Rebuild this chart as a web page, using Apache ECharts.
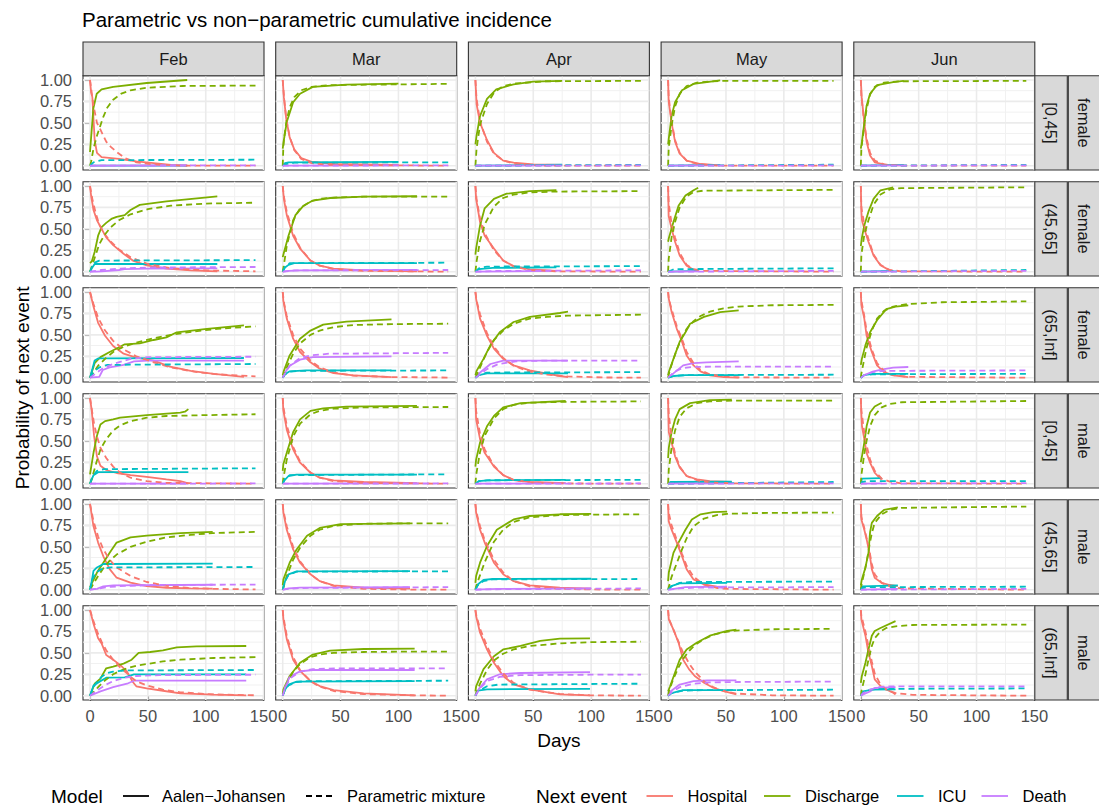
<!DOCTYPE html>
<html>
<head>
<meta charset="utf-8">
<script src="https://cdn.jsdelivr.net/npm/echarts@6/dist/echarts.min.js"></script>
<style>
html,body{margin:0;padding:0;background:#ffffff;}
#chart{width:1099px;height:807px;}
</style>
</head>
<body>
<div id="chart"></div>
<script>
// ---------------- labels & ticks ----------------
const chartTitle = 'Parametric vs non\u2212parametric cumulative incidence';
const months = ['Feb', 'Mar', 'Apr', 'May', 'Jun'];
const ageGroups = ['[0,45]', '(45,65]', '(65,Inf]', '[0,45]', '(45,65]', '(65,Inf]'];
const sexes = ['female', 'female', 'female', 'male', 'male', 'male'];
const eventNames = ['Hospital', 'Discharge', 'ICU', 'Death'];
const modelNames = ['Aalen\u2212Johansen', 'Parametric mixture'];
const xTickValues = [0, 50, 100, 150];
const xMinorValues = [25, 75, 125];
const yTickValues = [0, 0.25, 0.5, 0.75, 1];
const yMinorValues = [0.125, 0.375, 0.625, 0.875];

// ---------------- data: one flat [day, prob, day, prob, ...] list per panel
// panel order: row (female [0,45], female (45,65], female (65,Inf], male [0,45], male (45,65], male (65,Inf]) x month (Feb..Jun)
const ajHospital = [
 [0,1, 1,0.85, 2,0.8, 3,0.55, 4,0.3, 6,0.15, 10,0.1, 25,0.08, 40,0.05, 55,0.03, 70,0.01, 84,0],
 [0,1, 1,0.8, 3,0.55, 6,0.33, 10,0.19, 16,0.09, 25,0.045, 45,0.02, 100,0.01],
 [0,1, 1,0.72, 4,0.5, 10,0.3, 16,0.15, 24,0.06, 33,0.035, 50,0.015, 75,0.01],
 [0,1, 0.5,0.75, 3,0.5, 6,0.28, 10,0.14, 16,0.06, 28,0.02, 45,0.005],
 [0,1, 0.8,0.8, 3,0.5, 5,0.28, 8,0.12, 12,0.04, 22,0.01, 37,0.005],
 [0,1, 1,0.88, 3,0.72, 6,0.6, 10,0.5, 14,0.4, 20,0.31, 29,0.21, 37,0.13, 49,0.075, 66,0.035, 87,0.015, 110,0.005],
 [0,1, 1,0.85, 3.5,0.66, 9,0.42, 15,0.27, 24,0.13, 32,0.07, 44,0.035, 70,0.015, 116,0.005],
 [0,1, 0.6,0.85, 4,0.58, 8,0.42, 16,0.27, 24,0.13, 33,0.066, 47,0.027, 70,0.01],
 [0,1, 0.5,0.65, 3,0.5, 6,0.35, 10,0.19, 16,0.07, 22,0.023, 26,0.01],
 [0,1, 0.5,0.7, 1,0.6, 3,0.5, 6.6,0.35, 11,0.19, 17,0.075, 25,0.016, 28,0.01],
 [0,1, 3,0.83, 7,0.64, 13,0.49, 20,0.37, 29,0.28, 40,0.235, 55,0.2, 69,0.13, 87,0.08, 107,0.045, 133,0.01],
 [0,1, 0.5,0.9, 3.5,0.69, 9,0.455, 15,0.3, 24,0.18, 32,0.105, 44,0.054, 61,0.027, 94,0.008],
 [0,1, 0.6,0.92, 4,0.69, 10,0.49, 16,0.34, 24,0.22, 33,0.144, 47,0.086, 62,0.047, 73,0.02, 80,0.008],
 [0,1, 0.6,0.92, 3,0.77, 7.5,0.57, 12,0.42, 16,0.26, 22,0.144, 28,0.074, 36,0.027, 48,0.008, 61,0.002],
 [0,1, 0.5,0.85, 3,0.69, 5,0.49, 9.5,0.3, 14,0.144, 20,0.066, 28,0.027, 41,0.008],
 [0,1, 1.4,0.86, 3.5,0.56, 6,0.32, 9,0.21, 14,0.16, 23,0.125, 35,0.1, 49,0.08, 66,0.05, 78,0.03, 85,0.005],
 [0,1, 0.5,0.86, 3.5,0.63, 9,0.4, 15,0.245, 24,0.128, 32,0.07, 44,0.04, 70,0.02, 116,0.008],
 [0,1, 0.6,0.75, 4,0.52, 8,0.36, 16,0.2, 24,0.1, 33,0.043, 47,0.02, 78,0.008],
 [0,1, 0.3,0.75, 0.6,0.6, 3,0.48, 6,0.32, 10,0.19, 16,0.09, 25,0.05, 36,0.03, 55,0.02],
 [0,1, 0.5,0.8, 1,0.67, 3,0.52, 5,0.36, 8,0.245, 12,0.128, 16,0.07, 18,0.05],
 [0,1, 3,0.74, 7,0.55, 11.5,0.39, 17,0.24, 23,0.14, 35,0.082, 49,0.043, 66,0.023, 87,0.016, 106,0.012],
 [0,1, 0.6,0.9, 3.5,0.7, 9,0.47, 15,0.315, 24,0.18, 32,0.1, 44,0.05, 70,0.023, 110,0.012],
 [0,1, 0.6,0.9, 4,0.7, 8,0.55, 16,0.315, 24,0.18, 33,0.1, 47,0.05, 73,0.023, 100,0.012],
 [0,1, 0.5,0.8, 3,0.7, 7.5,0.55, 12,0.39, 16,0.24, 22,0.12, 31,0.062, 42,0.035, 51,0.02],
 [0,1, 0.5,0.82, 3,0.7, 5,0.59, 7.5,0.43, 9.5,0.24, 12,0.14, 18,0.08, 25,0.055, 32,0.043],
 [0,1, 3,0.84, 7,0.67, 10,0.61, 14,0.475, 20,0.42, 26,0.36, 32,0.28, 37,0.16, 40,0.11, 49,0.085, 63,0.058, 78,0.027, 107,0.012, 135,0.004],
 [0,1, 0.6,0.89, 3.5,0.66, 9,0.42, 15,0.29, 24,0.17, 32,0.113, 44,0.066, 70,0.027, 114,0.004],
 [0,1, 0.6,0.93, 4,0.735, 10,0.54, 16,0.385, 24,0.23, 33,0.132, 47,0.074, 73,0.016, 99,0.005],
 [0,1, 0.6,0.89, 4.6,0.77, 9,0.62, 13,0.42, 18,0.31, 23,0.23, 31,0.152, 39,0.093, 48,0.054, 59,0.016],
 [0,1, 0.5,0.89, 4,0.7, 6.6,0.5, 9.5,0.35, 12,0.19, 17,0.113, 22,0.074, 28,0.035, 30,0.015]
];
const ajDischarge = [
 [0,0.16, 2.9,0.67, 5.8,0.84, 10,0.89, 20,0.92, 49,0.965, 84,1.0],
 [0,0.2, 1,0.3, 3.5,0.51, 9,0.74, 15,0.84, 26,0.92, 55,0.945, 100,0.957],
 [0,0.25, 1,0.35, 4,0.58, 10,0.78, 18,0.89, 33,0.95, 50,0.98, 75,0.99],
 [0,0.25, 0.6,0.32, 3,0.58, 6,0.74, 12,0.88, 22,0.955, 45,0.995],
 [0,0.2, 1,0.28, 3,0.5, 5,0.7, 8,0.84, 14,0.94, 28,0.975, 37,0.99],
 [0,0.1, 1.5,0.12, 4,0.23, 7,0.42, 10,0.52, 14,0.57, 19,0.62, 23,0.64, 30,0.66, 35,0.72, 43,0.78, 66,0.82, 110,0.88],
 [0,0.17, 1,0.22, 5,0.42, 11,0.66, 18,0.77, 26,0.83, 41,0.86, 70,0.875, 116,0.88],
 [0,0.2, 0.6,0.27, 4,0.54, 8,0.74, 16,0.85, 27,0.91, 47,0.94, 70,0.95],
 [0,0.35, 0.6,0.39, 4.6,0.58, 9,0.77, 15,0.89, 22,0.95, 26,0.98],
 [0,0.3, 1,0.4, 3,0.54, 6.6,0.7, 11,0.85, 17,0.95, 28,0.985],
 [0,0, 4,0.17, 9,0.24, 17,0.3, 23,0.34, 30,0.39, 43,0.4, 55,0.44, 66,0.47, 75,0.53, 101,0.57, 133,0.61],
 [0,0.03, 1,0.08, 6,0.26, 15,0.455, 24,0.55, 35,0.62, 55,0.655, 94,0.68],
 [0,0.03, 1,0.08, 7,0.22, 13,0.38, 21,0.53, 33,0.65, 47,0.71, 73,0.755, 80,0.77],
 [0,0.03, 0.6,0.066, 4.6,0.22, 10,0.42, 15,0.53, 19,0.63, 31,0.71, 45,0.765, 61,0.785],
 [0,0.15, 0.9,0.22, 4,0.38, 8,0.53, 14,0.67, 22,0.8, 30,0.83, 41,0.845],
 [0,0.11, 3,0.36, 6,0.56, 9,0.69, 13,0.73, 20,0.75, 26,0.77, 49,0.8, 78,0.83, 82,0.84, 85,0.87],
 [0,0.15, 0.6,0.23, 3.5,0.36, 9,0.6, 15,0.75, 24,0.85, 35,0.88, 55,0.9, 116,0.907],
 [0,0.2, 0.6,0.28, 4,0.48, 10,0.67, 16,0.79, 24,0.89, 39,0.94, 78,0.965],
 [0,0.3, 0.6,0.42, 3,0.6, 6,0.75, 10,0.87, 19,0.94, 36,0.975, 55,0.98],
 [0,0.25, 1,0.32, 3,0.48, 5,0.67, 8,0.83, 12,0.9, 18,0.945],
 [0,0.03, 6,0.2, 11.5,0.315, 17,0.43, 23,0.55, 35,0.61, 49,0.63, 78,0.66, 106,0.675],
 [0,0.05, 0.6,0.12, 6,0.315, 12,0.47, 21,0.63, 32,0.72, 50,0.765, 110,0.775],
 [0,0.08, 0.6,0.16, 4,0.315, 10,0.51, 18.5,0.7, 33,0.82, 47,0.86, 73,0.88, 100,0.885],
 [0,0.1, 0.6,0.2, 4.6,0.43, 9,0.55, 15,0.7, 20.5,0.82, 28,0.88, 39,0.905, 51,0.91],
 [0,0.05, 0.9,0.12, 4,0.26, 6.6,0.43, 8,0.67, 9.5,0.78, 14,0.86, 20,0.93, 32,0.96],
 [0,0, 4,0.14, 9,0.2, 14,0.32, 20,0.34, 29,0.375, 36,0.42, 42,0.5, 52,0.51, 63,0.53, 75,0.565, 92,0.575, 135,0.58],
 [0,0.02, 0.6,0.074, 6,0.23, 15,0.385, 26,0.48, 41,0.525, 70,0.545, 114,0.55],
 [0,0.05, 0.6,0.11, 7,0.31, 16,0.46, 24,0.54, 39,0.58, 56,0.64, 73,0.665, 99,0.67],
 [0,0.05, 1.7,0.11, 6,0.27, 10,0.42, 16,0.54, 25,0.62, 36,0.7, 51,0.755, 59,0.77],
 [0,0.15, 0.9,0.23, 4,0.385, 6.6,0.54, 9.5,0.7, 12,0.755, 17,0.79, 30,0.87]
];
const ajIcu = [
 [0,0, 84,0.002], [0,0, 2,0.03, 5,0.04, 100,0.045], [0,0, 75,0.012], [0,0, 45,0.01], [0,0, 37,0.01],
 [0,0, 2,0.05, 4,0.09, 110,0.09], [0,0, 2,0.05, 5,0.08, 10,0.1, 116,0.1], [0,0, 3,0.03, 15,0.045, 70,0.05], [0,0, 26,0.01], [0,0, 28,0.01],
 [0,0, 2,0.1, 4,0.2, 7,0.225, 133,0.23], [0,0, 2,0.04, 6,0.075, 20,0.085, 94,0.085], [0,0, 3,0.03, 10,0.05, 80,0.05], [0,0, 5,0.02, 15,0.03, 61,0.03], [0,0, 3,0.03, 10,0.045, 41,0.045],
 [0,0, 3,0.1, 7,0.135, 85,0.135], [0,0, 1.5,0.04, 5,0.09, 12,0.105, 116,0.105], [0,0, 3,0.03, 10,0.04, 78,0.045], [0,0, 2,0.02, 55,0.025], [0,0, 1,0.06, 18,0.065],
 [0,0, 1.5,0.1, 3,0.22, 6,0.26, 11.5,0.3, 106,0.305], [0,0, 2,0.1, 5,0.18, 12,0.215, 110,0.218], [0,0, 2,0.06, 7,0.115, 15,0.125, 100,0.128], [0,0, 2,0.04, 10,0.074, 51,0.08], [0,0, 1,0.04, 32,0.05],
 [0,0, 3,0.12, 9,0.17, 14,0.21, 30,0.215, 38,0.25, 135,0.25], [0,0, 2,0.07, 5,0.13, 12,0.165, 114,0.17], [0,0, 2,0.06, 10,0.075, 99,0.08], [0,0, 3,0.03, 13,0.066, 59,0.066], [0,0, 2,0.05, 10,0.07, 30,0.075]
];
const ajDeath = [
 [0,0, 84,0.003], [0,0, 100,0.005], [0,0, 75,0.005], [0,0, 45,0.005], [0,0, 37,0.005],
 [0,0, 5,0, 10,0.005, 25,0.02, 30,0.03, 50,0.035, 110,0.04], [0,0, 5,0.01, 15,0.015, 116,0.02], [0,0, 70,0.01], [0,0, 26,0.005], [0,0, 28,0.005],
 [0,0, 8,0.01, 11,0.09, 17,0.12, 29,0.15, 38,0.19, 50,0.2, 133,0.2], [0,0, 2,0.06, 6,0.14, 15,0.21, 26,0.24, 94,0.25], [0,0, 3,0.05, 13,0.16, 24,0.2, 80,0.2], [0,0, 4.6,0.05, 13,0.144, 22,0.17, 33,0.18, 61,0.19], [0,0, 3,0.03, 10,0.07, 20,0.1, 28,0.117, 41,0.125],
 [0,0, 85,0.002], [0,0, 116,0.003], [0,0, 78,0.003], [0,0, 55,0.005], [0,0, 18,0.005],
 [0,0, 6,0.01, 11.5,0.04, 20,0.05, 106,0.058], [0,0, 5,0.015, 15,0.025, 110,0.03], [0,0, 5,0.005, 20,0.01, 100,0.015], [0,0, 5,0.01, 15,0.03, 51,0.035], [0,0, 32,0.01],
 [0,0, 9,0.05, 20,0.1, 32,0.14, 38,0.175, 135,0.175], [0,0, 2,0.1, 6,0.22, 15,0.285, 26,0.3, 114,0.3], [0,0, 3,0.08, 10,0.19, 21,0.25, 39,0.265, 99,0.275], [0,0, 2,0.05, 10,0.13, 22,0.17, 34,0.18, 59,0.18], [0,0, 3,0.02, 8,0.05, 12,0.09, 30,0.1]
];
const pmHospital = [
 [0,1, 1,0.9, 3,0.7, 6,0.5, 9,0.42, 14,0.28, 18,0.22, 23,0.16, 30,0.09, 40,0.04, 55,0.015, 80,0, 143,0],
 [0,1, 1,0.82, 3,0.55, 6,0.34, 10,0.18, 16,0.08, 25,0.03, 40,0.01, 143,0],
 [0,1, 1,0.78, 4,0.52, 10,0.28, 16,0.14, 24,0.06, 35,0.02, 60,0, 143,0],
 [0,1, 0.5,0.8, 3,0.52, 6,0.3, 10,0.15, 16,0.06, 25,0.02, 45,0, 143,0],
 [0,1, 0.5,0.8, 3,0.5, 5,0.32, 8,0.15, 12,0.06, 20,0.015, 35,0, 143,0],
 [0,1, 2,0.85, 5,0.68, 8,0.55, 12,0.45, 18,0.35, 25,0.26, 35,0.17, 50,0.09, 70,0.04, 100,0.015, 143,0.005],
 [0,1, 1,0.88, 3.5,0.7, 9,0.45, 15,0.28, 24,0.13, 32,0.07, 44,0.03, 70,0.01, 143,0],
 [0,1, 1,0.85, 4,0.62, 8,0.45, 16,0.25, 24,0.13, 33,0.06, 47,0.02, 70,0.005, 143,0],
 [0,1, 0.5,0.8, 3,0.56, 6,0.4, 10,0.22, 16,0.08, 22,0.03, 30,0.01, 143,0],
 [0,1, 0.5,0.75, 3,0.55, 6.6,0.38, 11,0.2, 17,0.08, 25,0.02, 35,0.005, 143,0],
 [0,1, 3,0.86, 7,0.7, 13,0.55, 20,0.43, 29,0.33, 40,0.25, 55,0.18, 70,0.12, 90,0.07, 110,0.04, 143,0.015],
 [0,1, 1,0.88, 3.5,0.72, 9,0.5, 15,0.34, 24,0.2, 32,0.12, 44,0.06, 61,0.025, 94,0.008, 143,0.002],
 [0,1, 1,0.9, 4,0.74, 10,0.52, 16,0.36, 24,0.23, 33,0.14, 47,0.07, 62,0.035, 80,0.015, 110,0.003, 143,0],
 [0,1, 0.6,0.92, 3,0.8, 7.5,0.6, 12,0.45, 16,0.3, 22,0.17, 28,0.09, 36,0.04, 48,0.013, 61,0.004, 143,0],
 [0,1, 0.5,0.9, 3,0.72, 5,0.55, 9.5,0.33, 14,0.17, 20,0.08, 28,0.03, 41,0.01, 143,0],
 [0,1, 1.4,0.88, 3.5,0.7, 6,0.55, 9,0.42, 14,0.3, 20,0.2, 26,0.13, 35,0.07, 49,0.03, 66,0.01, 143,0],
 [0,1, 0.5,0.9, 3.5,0.68, 9,0.43, 15,0.26, 24,0.13, 32,0.07, 44,0.03, 70,0.01, 143,0],
 [0,1, 0.6,0.85, 4,0.58, 8,0.4, 16,0.21, 24,0.1, 33,0.045, 47,0.015, 78,0.003, 143,0],
 [0,1, 0.6,0.8, 3,0.55, 6,0.35, 10,0.2, 16,0.09, 25,0.04, 36,0.015, 55,0.005, 143,0],
 [0,1, 0.5,0.85, 3,0.6, 5,0.45, 8,0.28, 12,0.15, 18,0.06, 25,0.025, 35,0.005, 143,0],
 [0,1, 3,0.8, 7,0.62, 11.5,0.47, 17,0.35, 23,0.26, 35,0.16, 49,0.09, 66,0.045, 87,0.02, 106,0.01, 143,0.003],
 [0,1, 0.6,0.92, 3.5,0.74, 9,0.5, 15,0.33, 24,0.18, 32,0.1, 44,0.045, 70,0.01, 110,0.002, 143,0],
 [0,1, 0.6,0.92, 4,0.74, 8,0.58, 16,0.35, 24,0.2, 33,0.1, 47,0.04, 73,0.01, 100,0.003, 143,0],
 [0,1, 0.5,0.9, 3,0.75, 7.5,0.58, 12,0.42, 16,0.28, 22,0.15, 31,0.06, 42,0.02, 51,0.01, 143,0],
 [0,1, 0.5,0.85, 3,0.72, 5,0.6, 7.5,0.45, 9.5,0.3, 12,0.18, 18,0.08, 25,0.04, 35,0.015, 143,0],
 [0,1, 3,0.87, 7,0.72, 10,0.63, 14,0.53, 20,0.42, 26,0.33, 32,0.26, 37,0.2, 40,0.17, 49,0.12, 63,0.07, 78,0.04, 107,0.015, 143,0.005],
 [0,1, 0.6,0.92, 3.5,0.7, 9,0.45, 15,0.3, 24,0.17, 32,0.105, 44,0.055, 70,0.018, 114,0.004, 143,0.001],
 [0,1, 0.6,0.95, 4,0.78, 10,0.58, 16,0.41, 24,0.26, 33,0.15, 47,0.07, 73,0.02, 99,0.005, 143,0],
 [0,1, 0.6,0.9, 4.6,0.77, 9,0.63, 13,0.5, 18,0.38, 23,0.28, 31,0.17, 39,0.1, 48,0.055, 59,0.025, 90,0.005, 143,0],
 [0,1, 0.5,0.93, 4,0.75, 6.6,0.58, 9.5,0.4, 12,0.26, 17,0.13, 22,0.07, 30,0.03, 45,0.01, 143,0]
];
const pmDischarge = [
 [0,0, 1,0.05, 3,0.2, 6,0.35, 9,0.47, 11.5,0.57, 15,0.68, 20,0.77, 27,0.84, 35,0.88, 49,0.91, 80,0.93, 143,0.935],
 [0,0, 0.5,0.2, 1,0.3, 3,0.5, 6,0.68, 10,0.8, 16,0.88, 25,0.92, 40,0.94, 143,0.955],
 [0,0, 1,0.2, 4,0.48, 10,0.72, 16,0.85, 24,0.93, 35,0.96, 60,0.985, 143,0.99],
 [0,0, 0.5,0.2, 3,0.47, 6,0.69, 10,0.84, 16,0.93, 25,0.97, 45,0.99, 143,0.99],
 [0,0, 0.5,0.2, 3,0.48, 5,0.66, 8,0.83, 12,0.92, 20,0.97, 35,0.985, 143,0.99],
 [0,0, 2,0.08, 5,0.2, 8,0.32, 12,0.42, 18,0.52, 25,0.6, 35,0.67, 50,0.73, 70,0.77, 100,0.795, 143,0.805],
 [0,0, 1,0.08, 3.5,0.3, 9,0.6, 15,0.74, 24,0.82, 32,0.85, 44,0.865, 70,0.875, 143,0.875],
 [0,0, 1,0.12, 4,0.36, 8,0.55, 16,0.76, 24,0.86, 33,0.9, 47,0.925, 70,0.935, 143,0.94],
 [0,0, 0.5,0.15, 3,0.4, 6,0.58, 10,0.75, 16,0.88, 22,0.93, 30,0.945, 143,0.955],
 [0,0, 0.5,0.2, 3,0.43, 6.6,0.6, 11,0.78, 17,0.9, 25,0.96, 35,0.975, 143,0.985],
 [0,0, 3,0.06, 7,0.14, 13,0.22, 20,0.3, 29,0.36, 40,0.41, 55,0.46, 70,0.5, 90,0.54, 110,0.57, 143,0.6],
 [0,0, 1,0.03, 3.5,0.12, 9,0.28, 15,0.4, 24,0.5, 32,0.55, 44,0.59, 61,0.615, 94,0.625, 143,0.63],
 [0,0, 1,0.03, 4,0.12, 10,0.3, 16,0.44, 24,0.55, 33,0.63, 47,0.69, 62,0.71, 80,0.725, 143,0.735],
 [0,0, 0.6,0.04, 3,0.15, 7.5,0.33, 12,0.47, 16,0.57, 22,0.66, 28,0.72, 36,0.77, 48,0.81, 61,0.83, 90,0.845, 143,0.85],
 [0,0, 0.5,0.05, 3,0.22, 5,0.35, 9.5,0.55, 14,0.69, 20,0.78, 28,0.83, 41,0.86, 70,0.88, 143,0.89],
 [0,0, 1.4,0.05, 3.5,0.15, 6,0.27, 9,0.4, 14,0.52, 20,0.62, 26,0.68, 35,0.73, 49,0.77, 66,0.79, 100,0.8, 143,0.81],
 [0,0, 0.5,0.06, 3.5,0.28, 9,0.55, 15,0.7, 24,0.81, 32,0.85, 44,0.875, 70,0.89, 143,0.895],
 [0,0, 0.6,0.1, 4,0.37, 8,0.56, 16,0.76, 24,0.87, 33,0.92, 47,0.945, 78,0.955, 143,0.96],
 [0,0, 0.6,0.17, 3,0.42, 6,0.62, 10,0.78, 16,0.88, 25,0.94, 36,0.96, 55,0.97, 143,0.97],
 [0,0, 0.5,0.1, 3,0.35, 5,0.5, 8,0.67, 12,0.8, 18,0.89, 25,0.93, 35,0.95, 143,0.965],
 [0,0, 3,0.07, 7,0.16, 11.5,0.25, 17,0.34, 23,0.41, 35,0.5, 49,0.56, 66,0.61, 87,0.64, 106,0.66, 143,0.675],
 [0,0, 0.6,0.03, 3.5,0.16, 9,0.35, 15,0.49, 24,0.63, 32,0.7, 44,0.745, 70,0.77, 110,0.775, 143,0.775],
 [0,0, 0.6,0.04, 4,0.17, 8,0.32, 16,0.56, 24,0.7, 33,0.79, 47,0.845, 73,0.87, 100,0.875, 143,0.88],
 [0,0, 0.5,0.03, 3,0.15, 7.5,0.31, 12,0.47, 16,0.6, 22,0.74, 31,0.83, 42,0.87, 51,0.885, 80,0.895, 143,0.9],
 [0,0, 0.5,0.05, 3,0.2, 5,0.32, 7.5,0.52, 9.5,0.66, 12,0.78, 18,0.88, 25,0.93, 35,0.955, 143,0.97],
 [0,0, 3,0.04, 7,0.1, 10,0.14, 14,0.19, 20,0.25, 26,0.29, 32,0.32, 40,0.35, 49,0.37, 63,0.4, 78,0.42, 107,0.44, 143,0.45],
 [0,0, 0.6,0.03, 3.5,0.14, 9,0.28, 15,0.37, 24,0.45, 32,0.48, 44,0.5, 70,0.51, 114,0.515, 143,0.515],
 [0,0, 0.6,0.03, 4,0.14, 10,0.3, 16,0.41, 24,0.49, 33,0.54, 47,0.58, 73,0.61, 99,0.625, 143,0.63],
 [0,0, 0.6,0.05, 4.6,0.2, 9,0.33, 13,0.43, 18,0.52, 23,0.59, 31,0.66, 39,0.71, 48,0.74, 59,0.76, 90,0.775, 143,0.78],
 [0,0, 0.5,0.05, 4,0.25, 6.6,0.42, 9.5,0.58, 12,0.67, 17,0.75, 22,0.79, 30,0.81, 45,0.825, 143,0.83]
];
const pmIcu = [
 [0,0, 3,0.04, 10,0.065, 143,0.07], [0,0, 3,0.02, 10,0.035, 143,0.04], [0,0, 143,0.01], [0,0, 143,0.012], [0,0, 143,0.01],
 [0,0, 3,0.1, 8,0.13, 143,0.135], [0,0, 2,0.06, 6,0.1, 143,0.105], [0,0, 3,0.04, 10,0.06, 143,0.065], [0,0, 5,0.03, 143,0.04], [0,0, 143,0.02],
 [0,0, 3,0.07, 8,0.12, 15,0.15, 143,0.16], [0,0, 2,0.04, 6,0.07, 15,0.08, 143,0.085], [0,0, 3,0.03, 10,0.06, 143,0.065], [0,0, 5,0.02, 15,0.03, 143,0.035], [0,0, 3,0.03, 10,0.04, 143,0.045],
 [0,0, 2,0.08, 6,0.15, 12,0.17, 143,0.18], [0,0, 2,0.06, 6,0.1, 143,0.11], [0,0, 3,0.03, 10,0.04, 143,0.045], [0,0, 143,0.02], [0,0, 1,0.02, 5,0.03, 143,0.03],
 [0,0, 2,0.12, 5,0.2, 10,0.24, 18,0.26, 143,0.265], [0,0, 2,0.1, 5,0.17, 12,0.21, 143,0.215], [0,0, 2,0.05, 7,0.1, 15,0.12, 143,0.125], [0,0, 3,0.04, 10,0.08, 20,0.09, 143,0.095], [0,0, 1,0.02, 5,0.03, 143,0.035],
 [0,0, 3,0.1, 7,0.18, 10,0.22, 14,0.26, 20,0.28, 30,0.295, 143,0.3], [0,0, 2,0.07, 5,0.12, 12,0.16, 20,0.17, 143,0.175], [0,0, 2,0.05, 10,0.11, 20,0.13, 143,0.14], [0,0, 3,0.03, 13,0.06, 30,0.065, 143,0.07], [0,0, 2,0.04, 8,0.07, 20,0.08, 143,0.085]
];
const pmDeath = [
 [0,0, 143,0.005], [0,0, 143,0.005], [0,0, 143,0.003], [0,0, 143,0.003], [0,0, 143,0.005],
 [0,0, 10,0.02, 30,0.04, 60,0.05, 143,0.055], [0,0, 10,0.015, 143,0.02], [0,0, 20,0.01, 143,0.015], [0,0, 143,0.01], [0,0, 143,0.01],
 [0,0, 5,0.05, 10,0.1, 20,0.16, 35,0.22, 50,0.24, 143,0.245], [0,0, 2,0.05, 6,0.14, 15,0.23, 24,0.26, 40,0.28, 143,0.29], [0,0, 3,0.03, 10,0.1, 20,0.16, 35,0.19, 60,0.2, 143,0.2], [0,0, 3,0.04, 7,0.08, 12,0.11, 20,0.125, 40,0.13, 143,0.13], [0,0, 3,0.03, 10,0.065, 20,0.08, 143,0.085],
 [0,0, 143,0.003], [0,0, 143,0.003], [0,0, 143,0.003], [0,0, 143,0.005], [0,0, 143,0.008],
 [0,0, 5,0.01, 15,0.03, 30,0.045, 60,0.055, 143,0.06], [0,0, 5,0.01, 15,0.02, 143,0.03], [0,0, 10,0.005, 143,0.015], [0,0, 10,0.015, 25,0.025, 143,0.03], [0,0, 143,0.01],
 [0,0, 3,0.03, 7,0.07, 14,0.13, 20,0.17, 30,0.21, 40,0.23, 60,0.24, 143,0.245], [0,0, 2,0.09, 6,0.2, 15,0.28, 26,0.31, 50,0.32, 143,0.32], [0,0, 3,0.07, 10,0.17, 21,0.22, 39,0.24, 99,0.245, 143,0.245], [0,0, 3,0.04, 10,0.1, 22,0.14, 35,0.155, 60,0.16, 143,0.165], [0,0, 2,0.03, 8,0.07, 15,0.1, 25,0.11, 143,0.11]
];

// ---------------- styling & layout ----------------
const FONT = '"Liberation Sans", Arial, Helvetica, sans-serif';
const EVENT_COLORS = ['#F8766D', '#7CAE00', '#00BFC4', '#C77CFF'];
const LINE_W = 1.8;
const DASH = [6, 4];
const GRID_MAJOR = '#EBEBEB';
const GRID_MINOR = '#F1F1F1';
const BORDER = '#333333';
const STRIP_FILL = '#D9D9D9';

const P_LEFT = 83, P_TOP = 75.7, P_W = 181, P_H = 94.3, COL_STEP = 192.7, ROW_STEP = 106;
const X_MIN = -6.06, X_MAX = 150.35, Y_MIN = -0.05, Y_MAX = 1.05;
const NROW = sexes.length, NCOL = months.length;

function pairs(flat) {
  const out = [];
  for (let i = 0; i < flat.length; i += 2) out.push([flat[i], flat[i + 1]]);
  return out;
}
function gridLineData(xs, ys) {
  const d = [];
  xs.forEach(x => { d.push([x, Y_MIN], [x, Y_MAX], ['-', '-']); });
  ys.forEach(y => { d.push([X_MIN, y], [X_MAX, y], ['-', '-']); });
  return d;
}

const grids = [], xAxes = [], yAxes = [], series = [];
const ajSets = [ajHospital, ajDischarge, ajIcu, ajDeath];
const pmSets = [pmHospital, pmDischarge, pmIcu, pmDeath];

for (let r = 0; r < NROW; r++) {
  for (let c = 0; c < NCOL; c++) {
    const k = r * NCOL + c;
    const left = P_LEFT + c * COL_STEP, top = P_TOP + r * ROW_STEP;
    grids.push({ left: left, top: top, width: P_W, height: P_H, containLabel: false,
      show: true, backgroundColor: '#ffffff', borderColor: BORDER, borderWidth: 1.1 });
    const bottom = (r === NROW - 1), leftCol = (c === 0);
    xAxes.push({ type: 'value', gridIndex: k, min: X_MIN, max: X_MAX,
      axisLine: { show: false },
      axisTick: { show: bottom, customValues: xTickValues, length: 5, lineStyle: { color: BORDER, width: 1.1 } },
      axisLabel: { show: bottom, customValues: xTickValues, color: '#4D4D4D', fontSize: 16.5, fontFamily: FONT, margin: 7,
        formatter: v => String(v) },
      splitLine: { show: false }, minorSplitLine: { show: false } });
    yAxes.push({ type: 'value', gridIndex: k, min: Y_MIN, max: Y_MAX,
      axisLine: { show: false },
      axisTick: { show: leftCol, customValues: yTickValues, length: 5, lineStyle: { color: BORDER, width: 1.1 } },
      axisLabel: { show: leftCol, customValues: yTickValues, color: '#4D4D4D', fontSize: 16.5, fontFamily: FONT, margin: 11,
        formatter: v => Number(v).toFixed(2) },
      splitLine: { show: false }, minorSplitLine: { show: false } });

    series.push({ type: 'line', xAxisIndex: k, yAxisIndex: k, silent: true, symbol: 'none', z: 1,
      data: gridLineData(xMinorValues, yMinorValues), connectNulls: false,
      lineStyle: { color: GRID_MINOR, width: 1 } });
    series.push({ type: 'line', xAxisIndex: k, yAxisIndex: k, silent: true, symbol: 'none', z: 1,
      data: gridLineData(xTickValues, yTickValues), connectNulls: false,
      lineStyle: { color: GRID_MAJOR, width: 1.6 } });

    [ajSets, pmSets].forEach((sets, m) => {
      sets.forEach((set, e) => {
        series.push({ type: 'line', name: eventNames[e] + ' / ' + modelNames[m],
          xAxisIndex: k, yAxisIndex: k, symbol: 'none', silent: true, z: 3,
          data: pairs(set[k]),
          lineStyle: { color: EVENT_COLORS[e], width: LINE_W, type: m === 0 ? 'solid' : DASH } });
      });
    });
  }
}

// ---------------- strips, titles, legend ----------------
const el = [];
function txt(x, y, s, size, color, align, rot, valign) {
  el.push({ type: 'text', x: x, y: y, rotation: rot || 0, silent: true, z: 10,
    style: { text: s, fontSize: size, fontFamily: FONT, fill: color,
      align: align || 'center', verticalAlign: valign || 'middle',
      textAlign: align || 'center', textVerticalAlign: valign || 'middle' } });
}
function rect(x, y, w, h) {
  el.push({ type: 'rect', silent: true, z: 9, shape: { x: x, y: y, width: w, height: h },
    style: { fill: STRIP_FILL, stroke: BORDER, lineWidth: 1.1 } });
}
function seg(x1, y1, x2, y2, color, dash) {
  el.push({ type: 'line', silent: true, z: 10, shape: { x1: x1, y1: y1, x2: x2, y2: y2 },
    style: { stroke: color, lineWidth: LINE_W, lineDash: dash || null } });
}

// column strips
months.forEach((m, c) => {
  const x = P_LEFT + c * COL_STEP;
  rect(x, 42, P_W, P_TOP - 42);
  txt(x + P_W / 2, 59, m, 16.5, '#1A1A1A');
});
// row strips
const stripX1 = P_LEFT + (NCOL - 1) * COL_STEP + P_W;
for (let r = 0; r < NROW; r++) {
  const y = P_TOP + r * ROW_STEP;
  rect(stripX1, y, 32.5, P_H);
  rect(stripX1 + 33.5, y, 32, P_H);
  txt(stripX1 + 16.25, y + P_H / 2, ageGroups[r], 16.5, '#1A1A1A', 'center', -Math.PI / 2);
  txt(stripX1 + 33.5 + 16, y + P_H / 2, sexes[r], 16.5, '#1A1A1A', 'center', -Math.PI / 2);
}
// title and axis titles
txt(82, 19.5, chartTitle, 20.5, '#000000', 'left');
txt((P_LEFT + stripX1) / 2, 740, 'Days', 19, '#000000');
txt(22, P_TOP + (NROW * ROW_STEP - (ROW_STEP - P_H)) / 2, 'Probability of next event', 19, '#000000', 'center', Math.PI / 2);

// legend
const LY = 796;
txt(51, LY, 'Model', 19, '#000000', 'left');
seg(123, LY, 149, LY, '#000000');
txt(162, LY, modelNames[0], 16.5, '#000000', 'left');
seg(306, LY, 332, LY, '#000000', DASH);
txt(347, LY, modelNames[1], 16.5, '#000000', 'left');
txt(536, LY, 'Next event', 19, '#000000', 'left');
const keyX = [646.5, 764, 897, 981.5];
eventNames.forEach((n, e) => {
  seg(keyX[e], LY, keyX[e] + 26.5, LY, EVENT_COLORS[e]);
  txt(keyX[e] + 41, LY, n, 16.5, '#000000', 'left');
});

const chart = echarts.init(document.getElementById('chart'), null, { renderer: 'svg', width: 1099, height: 807 });
chart.setOption({
  animation: false,
  backgroundColor: '#ffffff',
  textStyle: { fontFamily: FONT },
  grid: grids,
  xAxis: xAxes,
  yAxis: yAxes,
  series: series,
  graphic: { elements: el }
});
</script>
</body>
</html>
